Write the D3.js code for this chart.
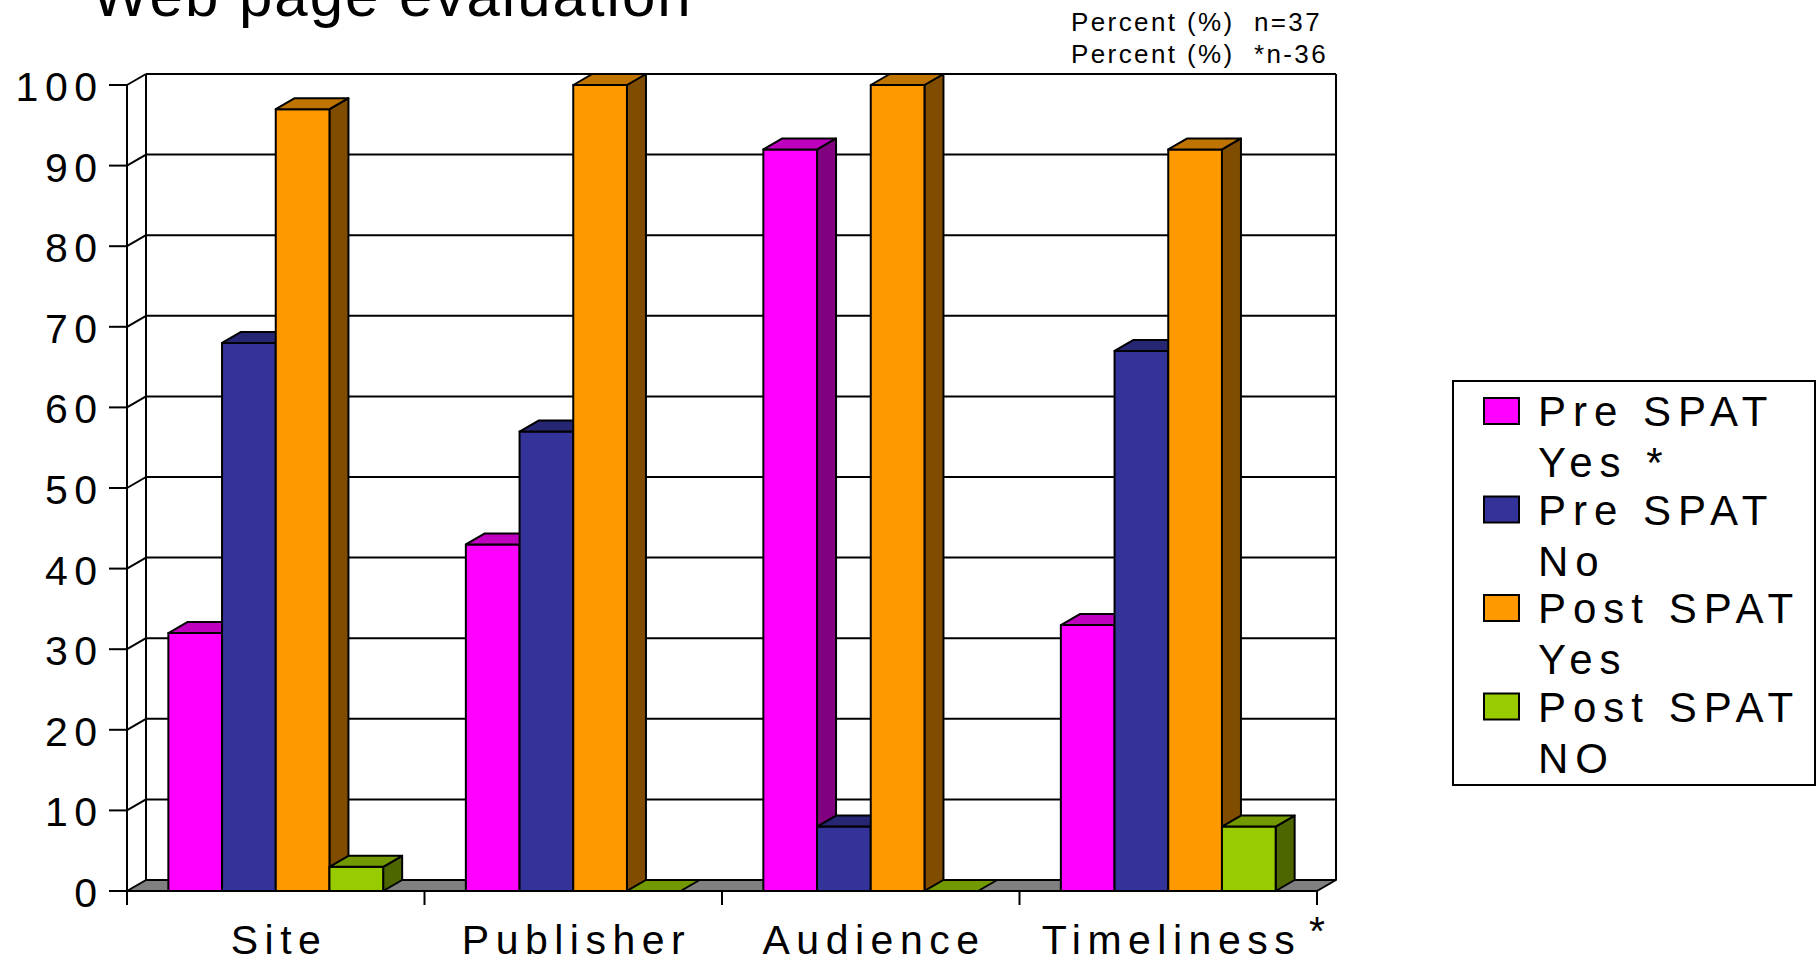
<!DOCTYPE html>
<html>
<head>
<meta charset="utf-8">
<script src="https://cdn.jsdelivr.net/npm/d3@7"></script>
<style>
  html, body { margin: 0; padding: 0; background: #fff; }
  svg { display: block; font-family: "Liberation Sans", Arial, sans-serif; }
</style>
</head>
<body>
<svg id="chart" width="1816" height="964"></svg>
<script>
// data
var categories = ['Site', 'Publisher', 'Audience', 'Timeliness']
var seriesKeys = ['preYes', 'preNo', 'postYes', 'postNo']
var legendLabels = [['Pre SPAT', 'Yes *'], ['Pre SPAT', 'No'], ['Post SPAT', 'Yes'], ['Post SPAT', 'NO']]
var preYes = [32, 43, 92, 33]
var preNo = [68, 57, 8, 67]
var postYes = [97, 100, 100, 92]
var postNo = [3, 0, 0, 8]
var yTicks = [0, 10, 20, 30, 40, 50, 60, 70, 80, 90, 100]
var noteLines = ['Percent (%)  n=37', 'Percent (%)  *n-36']

var colorFront = ['#FF00FF', '#333399', '#FF9900', '#99CC00']
var colorTop =   ['#BF00BF', '#262673', '#BF7300', '#739900']
var colorSide =  ['#800080', '#1A1A4D', '#804D00', '#4D6600']

var values = { preYes: preYes, preNo: preNo, postYes: postYes, postNo: postNo }

var svg = d3.select('#chart')
var depth = { dx: 19, dy: 11 }
var plotLeft = 127, plotRight = 1317, plotBottom = 891, plotTop = 85
var bigFont = 41, spacing = 6.5

var x = d3.scaleBand().domain(categories).range([plotLeft, plotRight]).paddingInner(0).paddingOuter(0)
var xs = d3.scaleBand().domain(seriesKeys).range([0, x.bandwidth()]).paddingInner(0).paddingOuter(0.77)
var y = d3.scaleLinear().domain([0, 100]).range([plotBottom, plotTop])

function pts(a) { return a.map(function(p) { return p.join(',') }).join(' ') }

// back wall and gridlines
var wall = svg.append('g')
wall.selectAll('line.grid').data(yTicks.slice(1)).join('line')
    .attr('x1', plotLeft + depth.dx).attr('x2', plotRight + depth.dx)
    .attr('y1', function(d) { return y(d) - depth.dy }).attr('y2', function(d) { return y(d) - depth.dy })
    .attr('stroke', '#000').attr('stroke-width', 2)
wall.selectAll('line.side').data(yTicks.slice(1)).join('line')
    .attr('x1', plotLeft).attr('x2', plotLeft + depth.dx)
    .attr('y1', function(d) { return y(d) }).attr('y2', function(d) { return y(d) - depth.dy })
    .attr('stroke', '#000').attr('stroke-width', 2)
wall.append('line')
    .attr('x1', plotLeft + depth.dx).attr('x2', plotLeft + depth.dx)
    .attr('y1', y(100) - depth.dy).attr('y2', y(0) - depth.dy)
    .attr('stroke', '#000').attr('stroke-width', 2)
wall.append('line')
    .attr('x1', plotRight + depth.dx).attr('x2', plotRight + depth.dx)
    .attr('y1', y(100) - depth.dy).attr('y2', y(0) - depth.dy)
    .attr('stroke', '#000').attr('stroke-width', 2)

// floor
svg.append('polygon')
    .attr('points', pts([[plotLeft, y(0)], [plotLeft + depth.dx, y(0) - depth.dy], [plotRight + depth.dx, y(0) - depth.dy], [plotRight, y(0)]]))
    .attr('fill', '#808080').attr('stroke', '#000').attr('stroke-width', 2).attr('stroke-linejoin', 'round')

// bars, left to right so each front hides the previous side
var bars = svg.append('g')
categories.forEach(function(cat, ci) {
    seriesKeys.forEach(function(key, si) {
        var v = values[key][ci]
        var x0 = x(cat) + xs(key), x1 = x0 + xs.bandwidth()
        var yv = y(v), y0 = y(0)
        var g = bars.append('g').attr('stroke', '#000').attr('stroke-width', 2).attr('stroke-linejoin', 'round')
        if (v > 0) {
            g.append('polygon')
                .attr('points', pts([[x1, yv], [x1 + depth.dx, yv - depth.dy], [x1 + depth.dx, y0 - depth.dy], [x1, y0]]))
                .attr('fill', colorSide[si])
            g.append('rect')
                .attr('x', x0).attr('y', yv).attr('width', x1 - x0).attr('height', y0 - yv)
                .attr('fill', colorFront[si])
        }
        g.append('polygon')
            .attr('points', pts([[x0, yv], [x0 + depth.dx, yv - depth.dy], [x1 + depth.dx, yv - depth.dy], [x1, yv]]))
            .attr('fill', colorTop[si])
    })
})

// y axis
svg.append('line').attr('x1', plotLeft).attr('x2', plotLeft).attr('y1', y(100)).attr('y2', y(0))
    .attr('stroke', '#000').attr('stroke-width', 2)
var yAxis = svg.append('g')
yAxis.selectAll('line').data(yTicks).join('line')
    .attr('x1', plotLeft - 18).attr('x2', plotLeft)
    .attr('y1', function(d) { return y(d) }).attr('y2', function(d) { return y(d) })
    .attr('stroke', '#000').attr('stroke-width', 2)
yAxis.selectAll('text').data(yTicks).join('text')
    .attr('x', 97 + spacing).attr('y', function(d) { return y(d) + 16 })
    .attr('text-anchor', 'end')
    .style('font-size', bigFont + 'px').style('letter-spacing', spacing + 'px')
    .text(function(d) { return d })

// x axis
svg.append('line').attr('x1', plotLeft - 18).attr('x2', plotRight).attr('y1', y(0)).attr('y2', y(0))
    .attr('stroke', '#000').attr('stroke-width', 2)
var tickXs = categories.map(function(c) { return x(c) }).concat([plotRight])
svg.append('g').selectAll('line').data(tickXs).join('line')
    .attr('x1', function(d) { return d }).attr('x2', function(d) { return d })
    .attr('y1', y(0)).attr('y2', y(0) + 14)
    .attr('stroke', '#000').attr('stroke-width', 2)
svg.append('g').selectAll('text').data(categories).join('text')
    .attr('x', function(d) { return x(d) + x.bandwidth() / 2 + spacing / 2 })
    .attr('y', 954)
    .attr('text-anchor', 'middle')
    .style('font-size', bigFont + 'px').style('letter-spacing', spacing + 'px')
    .text(function(d) { return d })
svg.append('text').attr('x', plotRight).attr('y', 945).attr('text-anchor', 'middle')
    .style('font-size', bigFont + 'px').text('*')

// title and note
svg.append('text').attr('x', 92).attr('y', 16)
    .style('font-size', '60px').style('letter-spacing', '2px')
    .text('Web page evaluation')
svg.append('g').selectAll('text').data(noteLines).join('text')
    .attr('x', 1071).attr('y', function(d, i) { return 31 + i * 32 })
    .attr('xml:space', 'preserve').style('white-space', 'pre')
    .style('font-size', '26px').style('letter-spacing', '2.4px')
    .text(function(d) { return d })

// legend
var legend = svg.append('g')
legend.append('rect').attr('x', 1453).attr('y', 381).attr('width', 362).attr('height', 404)
    .attr('fill', '#fff').attr('stroke', '#000').attr('stroke-width', 2)
var items = legend.selectAll('g.item').data(legendLabels).join('g')
    .attr('transform', function(d, i) { return 'translate(0,' + (i * 98.5) + ')' })
items.append('rect').attr('x', 1484).attr('y', 398).attr('width', 35).attr('height', 26)
    .attr('fill', function(d, i) { return colorFront[i] }).attr('stroke', '#000').attr('stroke-width', 2)
items.selectAll('text').data(function(d) { return d }).join('text')
    .attr('x', 1538).attr('y', function(d, j) { return 426 + j * 51 })
    .attr('xml:space', 'preserve').style('white-space', 'pre')
    .style('font-size', '42px').style('letter-spacing', '7px')
    .text(function(d) { return d })
</script>
</body>
</html>
